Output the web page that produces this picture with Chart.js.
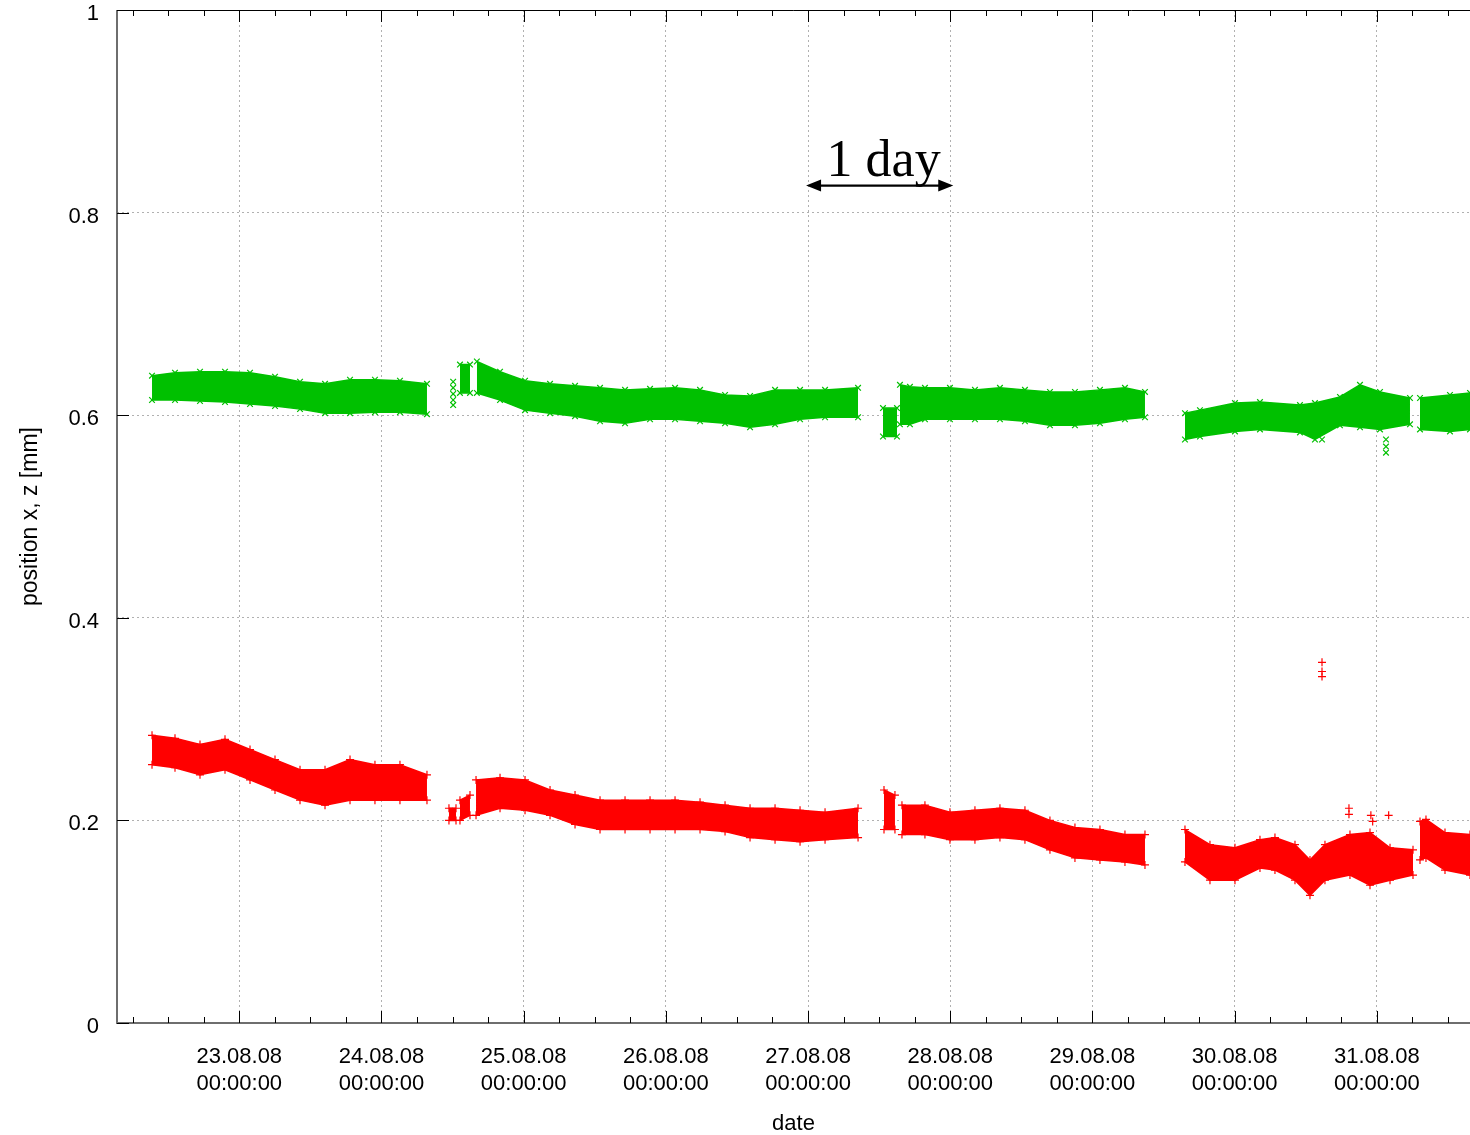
<!DOCTYPE html>
<html>
<head>
<meta charset="utf-8">
<script src="https://cdn.jsdelivr.net/npm/chart.js@4.4.1/dist/chart.umd.min.js"></script>
<style>
  html, body { margin: 0; padding: 0; background: #ffffff; }
  #wrap { width: 1470px; height: 1135px; position: relative; }
</style>
</head>
<body>
<div id="wrap"><canvas id="c" width="1470" height="1135"></canvas></div>
<script>
// ---- time axis: hours since 22.08.08 00:00:00 ----
const xMin = 3.36;
const xMax = 231.73;
const xTickHours  = [24, 48, 72, 96, 120, 144, 168, 192, 216];
const xTickDates  = ['23.08.08','24.08.08','25.08.08','26.08.08','27.08.08','28.08.08','29.08.08','30.08.08','31.08.08'];
const xTickTime   = '00:00:00';
const yTicks      = [0, 0.2, 0.4, 0.6, 0.8, 1];

// ---- green series (x position) : band envelope, null = gap in recording ----
const greenTime  = [9.27, 13.15, 17.37, 21.59, 25.81, 30.03, 34.25, 38.47, 42.69, 46.90, 51.12, 55.68, 57.5,
                    61.25, 62.94, 63.6,
                    64.10, 68.01, 72.23, 76.45, 80.67, 84.89, 89.11, 93.33, 97.55, 101.77, 105.99, 110.21, 114.43, 118.65, 122.87, 128.44, 130.0,
                    132.65, 135.01, 135.2,
                    135.51, 137.20, 139.73, 143.95, 148.17, 152.39, 156.61, 160.83, 165.05, 169.27, 173.49, 176.87, 180.0,
                    183.62, 186.15, 192.06, 196.28, 203.03, 205.56, 209.78, 213.16, 216.54, 221.60, 222.4,
                    223.29, 228.35, 231.73];
const greenUpper = [0.639, 0.642, 0.643, 0.643, 0.642, 0.638, 0.633, 0.631, 0.635, 0.635, 0.634, 0.631, null,
                    0.650, 0.650, null,
                    0.653, 0.643, 0.634, 0.631, 0.629, 0.627, 0.625, 0.626, 0.627, 0.625, 0.620, 0.619, 0.625, 0.625, 0.625, 0.627, null,
                    0.607, 0.607, null,
                    0.630, 0.628, 0.627, 0.627, 0.625, 0.627, 0.625, 0.623, 0.623, 0.625, 0.627, 0.623, null,
                    0.602, 0.605, 0.612, 0.613, 0.610, 0.612, 0.618, 0.630, 0.623, 0.617, null,
                    0.617, 0.620, 0.622];
const greenLower = [0.615, 0.615, 0.614, 0.613, 0.611, 0.609, 0.606, 0.602, 0.602, 0.603, 0.603, 0.601, null,
                    0.622, 0.622, null,
                    0.622, 0.615, 0.605, 0.602, 0.599, 0.594, 0.592, 0.596, 0.596, 0.594, 0.592, 0.588, 0.591, 0.596, 0.598, 0.598, null,
                    0.579, 0.579, null,
                    0.591, 0.591, 0.596, 0.596, 0.596, 0.596, 0.594, 0.590, 0.590, 0.592, 0.596, 0.598, null,
                    0.576, 0.579, 0.584, 0.586, 0.583, 0.576, 0.590, 0.588, 0.586, 0.591, null,
                    0.586, 0.584, 0.586];
const greenSingleTime  = [60.1, 60.1, 60.1, 60.1, 60.1, 206.75, 217.55, 217.55, 217.55];
const greenSingleValue = [0.633, 0.627, 0.621, 0.615, 0.610, 0.576, 0.576, 0.569, 0.563];

// ---- red series (z position) ----
const redTime  = [9.27, 13.15, 17.37, 21.59, 25.81, 30.03, 34.25, 38.47, 42.69, 46.90, 51.12, 55.68, 57.5,
                  59.39, 60.58, 60.9,
                  61.25, 62.94, 63.6,
                  63.96, 68.01, 72.23, 76.45, 80.67, 84.89, 89.11, 93.33, 97.55, 101.77, 105.99, 110.21, 114.43, 118.65, 122.87, 128.44, 130.0,
                  132.82, 134.67, 135.2,
                  135.85, 139.73, 143.95, 148.17, 152.39, 156.61, 160.83, 165.05, 169.27, 173.49, 176.87, 180.0,
                  183.62, 187.84, 192.06, 196.28, 198.81, 202.19, 204.72, 207.25, 211.47, 214.85, 218.23, 222.11, 222.6,
                  223.29, 224.3, 227.51, 231.73];
const redUpper = [0.284, 0.281, 0.275, 0.280, 0.270, 0.260, 0.250, 0.250, 0.260, 0.255, 0.255, 0.245, null,
                  0.212, 0.212, null,
                  0.220, 0.225, null,
                  0.240, 0.242, 0.240, 0.230, 0.225, 0.220, 0.220, 0.220, 0.220, 0.218, 0.215, 0.212, 0.212, 0.210, 0.208, 0.212, null,
                  0.230, 0.225, null,
                  0.215, 0.215, 0.208, 0.210, 0.212, 0.210, 0.200, 0.193, 0.191, 0.186, 0.186, null,
                  0.191, 0.176, 0.173, 0.181, 0.183, 0.176, 0.161, 0.176, 0.186, 0.188, 0.173, 0.171, null,
                  0.199, 0.201, 0.188, 0.186];
const redLower = [0.255, 0.252, 0.245, 0.250, 0.240, 0.230, 0.220, 0.215, 0.220, 0.220, 0.220, 0.220, null,
                  0.200, 0.200, null,
                  0.200, 0.205, null,
                  0.205, 0.212, 0.210, 0.205, 0.196, 0.191, 0.191, 0.191, 0.191, 0.191, 0.189, 0.183, 0.181, 0.179, 0.181, 0.183, null,
                  0.191, 0.191, null,
                  0.186, 0.186, 0.181, 0.181, 0.183, 0.181, 0.171, 0.163, 0.161, 0.159, 0.156, null,
                  0.159, 0.141, 0.141, 0.153, 0.151, 0.141, 0.126, 0.141, 0.146, 0.136, 0.141, 0.146, null,
                  0.161, 0.163, 0.151, 0.146];
const redSingleTime  = [206.75, 206.75, 206.75, 211.3, 211.3, 215.0, 215.3, 218.0];
const redSingleValue = [0.356, 0.347, 0.342, 0.212, 0.206, 0.205, 0.199, 0.205];

// ---- helpers ----
const pts = (t, v) => t.map((x, i) => ({ x: x, y: v[i] }));
const GREEN = '#00c000';
const RED = '#ff0000';
const FONT = "'Liberation Sans', Arial, sans-serif";

function bandUpper(t, v, color, style) {
  return { data: pts(t, v), borderColor: color, backgroundColor: color, fill: '+1',
           borderWidth: 1.5, pointStyle: style, pointRadius: 4, pointBorderWidth: 1.2,
           pointBorderColor: color, pointBackgroundColor: color, tension: 0, spanGaps: false };
}
function bandLower(t, v, color, style) {
  return { data: pts(t, v), borderColor: color, backgroundColor: color, fill: false,
           borderWidth: 1.5, pointStyle: style, pointRadius: 4, pointBorderWidth: 1.2,
           pointBorderColor: color, pointBackgroundColor: color, tension: 0, spanGaps: false };
}
function singles(t, v, color, style) {
  return { data: pts(t, v), showLine: false, borderColor: color, backgroundColor: color,
           pointStyle: style, pointRadius: 4, pointBorderWidth: 1.2, fill: false };
}

// ---- decorations: inward tick marks, frame, "1 day" annotation ----
const decor = {
  id: 'decor',
  afterDraw(chart) {
    const ctx = chart.ctx, a = chart.chartArea;
    const xs = chart.scales.x, ys = chart.scales.y;
    ctx.save();
    // frame
    ctx.strokeStyle = '#000'; ctx.lineWidth = 1;
    ctx.beginPath(); ctx.moveTo(a.left, a.top + 0.5); ctx.lineTo(a.right, a.top + 0.5); ctx.stroke();
    ctx.strokeStyle = '#6e6e6e'; ctx.lineWidth = 2;
    ctx.beginPath(); ctx.moveTo(a.left, a.top); ctx.lineTo(a.left, a.bottom); ctx.lineTo(a.right, a.bottom); ctx.stroke();
    // x ticks every 6 h (major at day)
    ctx.strokeStyle = '#000'; ctx.lineWidth = 1;
    for (let h = Math.ceil(xs.min / 6) * 6; h <= xs.max; h += 6) {
      const px = Math.round(xs.getPixelForValue(h)) + 0.5;
      const len = (h % 24 === 0) ? 12 : 6;
      ctx.beginPath();
      ctx.moveTo(px, a.bottom); ctx.lineTo(px, a.bottom - len);
      ctx.moveTo(px, a.top); ctx.lineTo(px, a.top + len);
      ctx.stroke();
    }
    // y ticks
    yTicks.forEach(v => {
      const py = Math.round(ys.getPixelForValue(v)) + 0.5;
      ctx.beginPath(); ctx.moveTo(a.left, py); ctx.lineTo(a.left + 12, py); ctx.stroke();
    });
    // "1 day" annotation between 27.08 and 28.08
    const x0 = xs.getPixelForValue(120) - 2, x1 = xs.getPixelForValue(144) + 3;
    const yA = ys.getPixelForValue(0.8267);
    ctx.strokeStyle = '#000'; ctx.fillStyle = '#000'; ctx.lineWidth = 2.2;
    ctx.beginPath(); ctx.moveTo(x0 + 8, yA); ctx.lineTo(x1 - 8, yA); ctx.stroke();
    ctx.beginPath(); ctx.moveTo(x0, yA); ctx.lineTo(x0 + 15, yA - 6); ctx.lineTo(x0 + 15, yA + 6); ctx.closePath(); ctx.fill();
    ctx.beginPath(); ctx.moveTo(x1, yA); ctx.lineTo(x1 - 15, yA - 6); ctx.lineTo(x1 - 15, yA + 6); ctx.closePath(); ctx.fill();
    ctx.font = "52px 'Liberation Serif', 'Times New Roman', serif";
    ctx.textAlign = 'center'; ctx.textBaseline = 'alphabetic';
    ctx.fillText('1 day', (x0 + x1) / 2 + 4, yA - 10);
    ctx.restore();
  }
};

new Chart(document.getElementById('c'), {
  type: 'line',
  data: {
    datasets: [
      bandUpper(greenTime, greenUpper, GREEN, 'crossRot'),
      bandLower(greenTime, greenLower, GREEN, 'crossRot'),
      bandUpper(redTime, redUpper, RED, 'cross'),
      bandLower(redTime, redLower, RED, 'cross'),
      singles(greenSingleTime, greenSingleValue, GREEN, 'crossRot'),
      singles(redSingleTime, redSingleValue, RED, 'cross')
    ]
  },
  options: {
    responsive: false,
    animation: false,
    devicePixelRatio: 1,
    layout: { autoPadding: false, padding: { top: 10, right: 0, left: 0, bottom: 0 } },
    plugins: { legend: { display: false }, tooltip: { enabled: false } },
    scales: {
      x: {
        type: 'linear', min: xMin, max: xMax,
        afterBuildTicks: s => { s.ticks = xTickHours.map(v => ({ value: v })); },
        afterFit: s => { s.height = 112; s.paddingLeft = 0; s.paddingRight = 0; },
        grid: { color: '#b0b0b0', lineWidth: 1, drawTicks: false },
        border: { display: false, dash: [2, 3] },
        ticks: {
          autoSkip: false, maxRotation: 0, padding: 20, color: '#000',
          font: { family: FONT, size: 22, lineHeight: 1.23 },
          callback: (v, i) => [xTickDates[i], xTickTime]
        },
        title: { display: true, text: 'date', color: '#000', padding: { top: 0, bottom: 0 },
                 font: { family: FONT, size: 22, lineHeight: 1.0 } }
      },
      y: {
        type: 'linear', min: 0, max: 1,
        afterBuildTicks: s => { s.ticks = yTicks.map(v => ({ value: v })); },
        afterFit: s => { s.width = 117; s.paddingTop = 0; s.paddingBottom = 0; },
        grid: { color: '#b0b0b0', lineWidth: 1, drawTicks: false },
        border: { display: false, dash: [2, 3] },
        ticks: {
          padding: 18, color: '#000', labelOffset: 4,
          font: { family: FONT, size: 22 },
          callback: v => String(Number(v.toFixed(1)))
        },
        title: { display: true, text: 'position x, z [mm]', color: '#000', padding: { top: 17, bottom: 0 },
                 font: { family: FONT, size: 23 } }
      }
    }
  },
  plugins: [decor]
});
</script>
</body>
</html>
